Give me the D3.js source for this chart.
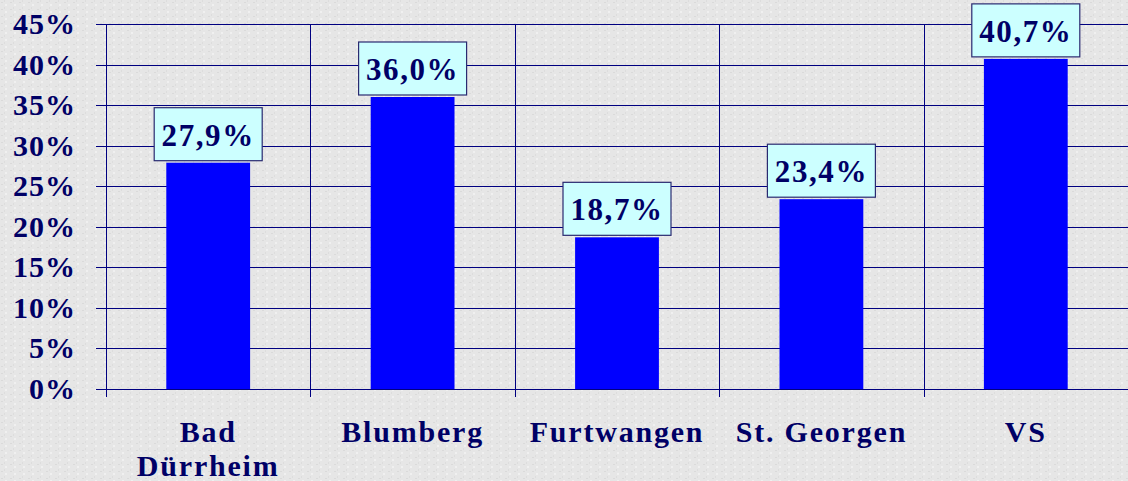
<!DOCTYPE html>
<html>
<head>
<meta charset="utf-8">
<script src="https://cdn.jsdelivr.net/npm/d3@7"></script>
<style>
  body { margin: 0; background: #e8e8e8; }
  svg { display: block; }
</style>
</head>
<body>
<div id="chart"></div>
<script>
const categories = [["Bad", "Dürrheim"], ["Blumberg"], ["Furtwangen"], ["St. Georgen"], ["VS"]];
const values = [27.9, 36.0, 18.7, 23.4, 40.7];
const yTicks = [0, 5, 10, 15, 20, 25, 30, 35, 40, 45];

const width = 1128, height = 481;
const margin = {top: 24, right: 0, bottom: 92, left: 106};
const navy = "#000080";
const serif = "'Liberation Serif', 'Times New Roman', serif";

const svg = d3.select("#chart")
    .append("svg")
    .attr("width", width)
    .attr("height", height);

// speckled background
const defs = svg.append("defs");
const pat = defs.append("pattern")
    .attr("id", "noise")
    .attr("width", 9).attr("height", 7)
    .attr("patternUnits", "userSpaceOnUse");
pat.append("rect").attr("width", 9).attr("height", 7).attr("fill", "#e6e6e6");
pat.append("rect").attr("x", 1).attr("y", 2).attr("width", 2).attr("height", 1).attr("fill", "#dadada");
pat.append("rect").attr("x", 5).attr("y", 4).attr("width", 2).attr("height", 2).attr("fill", "#f0f0f0");
pat.append("rect").attr("x", 4).attr("y", 0).attr("width", 1).attr("height", 2).attr("fill", "#dddddd");
svg.append("rect").attr("width", width).attr("height", height).attr("fill", "url(#noise)");

const x = d3.scaleBand()
    .domain(d3.range(categories.length))
    .range([margin.left, width - margin.right])
    .paddingInner(0.59)
    .paddingOuter(0.295);

const y = d3.scaleLinear()
    .domain([0, 45])
    .range([height - margin.bottom, margin.top]);

const step = x.step();
const plotLeft = margin.left;

// horizontal gridlines + ticks
svg.append("g")
    .selectAll("line")
    .data(yTicks)
    .join("line")
    .attr("x1", plotLeft - 10)
    .attr("x2", width)
    .attr("y1", d => Math.round(y(d)) + 0.5)
    .attr("y2", d => Math.round(y(d)) + 0.5)
    .attr("stroke", navy)
    .attr("stroke-width", 1);

// vertical gridlines at category boundaries
svg.append("g")
    .selectAll("line")
    .data(d3.range(categories.length))
    .join("line")
    .attr("x1", d => Math.round(plotLeft + d * step) + 0.5)
    .attr("x2", d => Math.round(plotLeft + d * step) + 0.5)
    .attr("y1", y(45))
    .attr("y2", y(0) + 8)
    .attr("stroke", navy)
    .attr("stroke-width", 1);

// y tick labels
svg.append("g")
    .selectAll("text")
    .data(yTicks)
    .join("text")
    .attr("x", 76)
    .attr("y", d => y(d) + 10)
    .attr("text-anchor", "end")
    .attr("font-family", serif)
    .attr("font-weight", "bold")
    .attr("font-size", 30)
    .attr("letter-spacing", 1)
    .attr("fill", "#000066")
    .text(d => d + "%");

// bars
svg.append("g")
    .selectAll("rect")
    .data(values)
    .join("rect")
    .attr("x", (d, i) => x(i))
    .attr("y", d => y(d))
    .attr("width", x.bandwidth())
    .attr("height", d => y(0) - y(d))
    .attr("fill", "#0000ff");

// value label boxes
const fmt = d => d.toFixed(1).replace(".", ",") + "%";
const lbl = svg.append("g")
    .selectAll("g")
    .data(values)
    .join("g")
    .attr("transform", (d, i) => `translate(${x(i) + x.bandwidth() / 2},${y(d) - 2})`);

lbl.append("rect")
    .attr("x", -54)
    .attr("y", -53)
    .attr("width", 108)
    .attr("height", 53)
    .attr("fill", "#ccffff")
    .attr("stroke", "#2a2a70")
    .attr("stroke-width", 1.2);

lbl.append("text")
    .attr("y", -15)
    .attr("text-anchor", "middle")
    .attr("font-family", serif)
    .attr("font-weight", "bold")
    .attr("font-size", 31)
    .attr("letter-spacing", 1.6)
    .attr("fill", "#000066")
    .text(fmt);

// category labels
const cat = svg.append("g")
    .selectAll("text")
    .data(categories)
    .join("text")
    .attr("x", (d, i) => x(i) + x.bandwidth() / 2)
    .attr("y", 442)
    .attr("text-anchor", "middle")
    .attr("font-family", serif)
    .attr("font-weight", "bold")
    .attr("font-size", 30)
    .attr("letter-spacing", 1.8)
    .attr("fill", "#000066");

cat.selectAll("tspan")
    .data(d => d)
    .join("tspan")
    .attr("x", function () { return d3.select(this.parentNode).attr("x"); })
    .attr("dy", (d, i) => i === 0 ? 0 : 34)
    .text(d => d);
</script>
</body>
</html>
